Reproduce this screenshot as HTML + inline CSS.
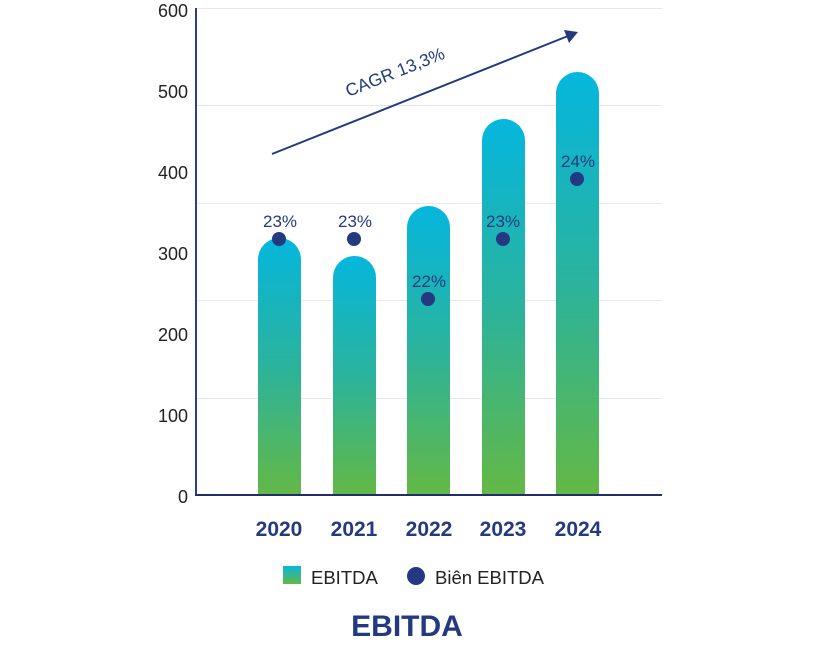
<!DOCTYPE html>
<html><head><meta charset="utf-8"><style>
html,body{margin:0;padding:0;background:#fff;}
svg{display:block;font-family:"Liberation Sans",sans-serif;}
</style></head><body>
<svg width="816" height="646" viewBox="0 0 816 646" xmlns="http://www.w3.org/2000/svg">
<defs>
<linearGradient id="g" x1="0" y1="0" x2="0" y2="1">
<stop offset="0" stop-color="#05b6de"/>
<stop offset="0.5" stop-color="#2bb39c"/>
<stop offset="1" stop-color="#64b845"/>
</linearGradient>
<linearGradient id="gl" x1="0" y1="0" x2="0" y2="1">
<stop offset="0" stop-color="#05b6de"/>
<stop offset="1" stop-color="#64b845"/>
</linearGradient>
</defs>
<g stroke="#e6e8ec" stroke-width="1">
<line x1="196" y1="8.5" x2="662" y2="8.5"/>
<line x1="196" y1="105.5" x2="662" y2="105.5"/>
<line x1="196" y1="203.5" x2="662" y2="203.5"/>
<line x1="196" y1="300.5" x2="662" y2="300.5"/>
<line x1="196" y1="398.5" x2="662" y2="398.5"/>
</g>
<g font-size="18" fill="#222" text-anchor="end">
<text x="188" y="17">600</text>
<text x="188" y="98">500</text>
<text x="188" y="179">400</text>
<text x="188" y="260">300</text>
<text x="188" y="341">200</text>
<text x="188" y="422">100</text>
<text x="188" y="503">0</text>
</g>
<g fill="url(#g)">
<path d="M258 495 V259.5 A21.5 21.5 0 0 1 301 259.5 V495 Z"/>
<path d="M333 495 V277.5 A21.5 21.5 0 0 1 376 277.5 V495 Z"/>
<path d="M407 495 V227.5 A21.5 21.5 0 0 1 450 227.5 V495 Z"/>
<path d="M482 495 V140.5 A21.5 21.5 0 0 1 525 140.5 V495 Z"/>
<path d="M556 495 V93.5 A21.5 21.5 0 0 1 599 93.5 V495 Z"/>
</g>
<line x1="196" y1="8" x2="196" y2="496" stroke="#2a3f8a" stroke-width="2"/>
<line x1="195" y1="495" x2="662" y2="495" stroke="#1f2f6e" stroke-width="2"/>
<g fill="#243a80">
<circle cx="279" cy="239" r="7"/>
<circle cx="354" cy="239" r="7"/>
<circle cx="428" cy="299" r="7"/>
<circle cx="503" cy="239" r="7"/>
<circle cx="577" cy="179" r="7"/>
</g>
<g font-size="17" fill="#243a80" text-anchor="middle">
<text x="280" y="227">23%</text>
<text x="355" y="227">23%</text>
<text x="429" y="287">22%</text>
<text x="503" y="227">23%</text>
<text x="578" y="167">24%</text>
</g>
<line x1="272" y1="154" x2="568" y2="36" stroke="#243a80" stroke-width="2"/>
<polygon points="578,32 564,30 569,43" fill="#243a80"/>
<text x="395" y="78" font-size="17.5" fill="#243a80" text-anchor="middle" transform="rotate(-21.7 395 72)">CAGR 13,3%</text>
<g font-size="21" font-weight="bold" fill="#243a80" text-anchor="middle">
<text x="279" y="536">2020</text>
<text x="354" y="536">2021</text>
<text x="429" y="536">2022</text>
<text x="503" y="536">2023</text>
<text x="578" y="536">2024</text>
</g>
<rect x="283" y="566" width="18" height="18" fill="url(#gl)"/>
<text x="311" y="584" font-size="18.5" fill="#222">EBITDA</text>
<circle cx="416" cy="576" r="9" fill="#243a80"/>
<text x="435" y="584" font-size="18.5" fill="#222">Biên EBITDA</text>
<text x="407" y="636" font-size="30" font-weight="bold" fill="#243a80" text-anchor="middle">EBITDA</text>
</svg>
</body></html>
